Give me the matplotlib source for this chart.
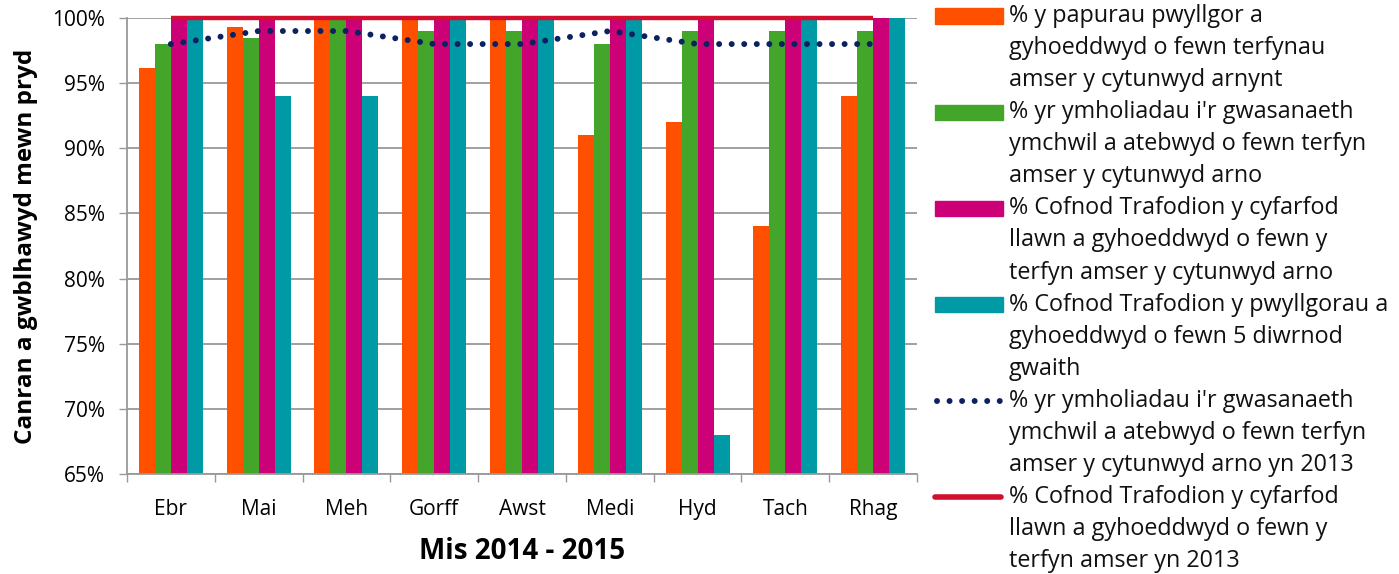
import matplotlib
matplotlib.use("Agg")
import matplotlib.pyplot as plt
import numpy as np
from matplotlib.lines import Line2D
from matplotlib.patches import Rectangle

plt.rcParams["font.family"] = ["Open Sans", "DejaVu Sans"]

months = ["Ebr", "Mai", "Meh", "Gorff", "Awst", "Medi", "Hyd", "Tach", "Rhag"]
papurau = [96.2, 99.3, 100, 100, 100, 91, 92, 84, 94]
ymholiadau = [98, 98.5, 100, 99, 99, 98, 99, 99, 99]
cofnod_llawn = [100, 100, 100, 100, 100, 100, 100, 100, 100]
cofnod_pwyllgor = [100, 94, 94, 100, 100, 100, 68, 100, 100]
ymholiadau_2013 = [98, 99, 99, 98, 98, 99, 98, 98, 98]
cofnod_2013 = [100, 100, 100, 100, 100, 100, 100, 100, 100]

labels = [
    "% y papurau pwyllgor a\ngyhoeddwyd o fewn terfynau\namser y cytunwyd arnynt",
    "% yr ymholiadau i'r gwasanaeth\nymchwil a atebwyd o fewn terfyn\namser y cytunwyd arno",
    "% Cofnod Trafodion y cyfarfod\nllawn a gyhoeddwyd o fewn y\nterfyn amser y cytunwyd arno",
    "% Cofnod Trafodion y pwyllgorau a\ngyhoeddwyd o fewn 5 diwrnod\ngwaith",
    "% yr ymholiadau i'r gwasanaeth\nymchwil a atebwyd o fewn terfyn\namser y cytunwyd arno yn 2013",
    "% Cofnod Trafodion y cyfarfod\nllawn a gyhoeddwyd o fewn y\nterfyn amser yn 2013",
]
bar_colors = ["#ff5000", "#43a52a", "#cc0077", "#009aa6"]
dot_color = "#0b2160"
red_color = "#d0102e"

W, H = 1399, 574
fig = plt.figure(figsize=(W / 100, H / 100), dpi=100)
ax = fig.add_axes([127 / W, 1 - 474 / H, (917 - 127) / W, (474 - 18) / H])

x = np.arange(len(months))
bw = 0.182
series = [papurau, ymholiadau, cofnod_llawn, cofnod_pwyllgor]
for i, (vals, col) in enumerate(zip(series, bar_colors)):
    ax.bar(x + (i - 1.5) * bw, vals, width=bw, color=col, zorder=2)

ax.plot(x, ymholiadau_2013, color=dot_color, linewidth=4.3,
        linestyle=(0, (0.001, 2.1)), dash_capstyle="round", zorder=3)
ax.plot(x, cofnod_2013, color=red_color, linewidth=3.2,
        solid_capstyle="butt", zorder=4, clip_on=False)

ax.set_xlim(-0.5, len(months) - 0.5)
ax.set_ylim(65, 100)
ax.set_yticks(np.arange(65, 101, 5))
ax.set_yticklabels([f"{v}%" for v in range(65, 101, 5)])
ax.set_xticks(x)
ax.set_xticklabels(months)
ax.set_xticks(np.arange(-0.5, len(months), 1), minor=True)
ax.tick_params(axis="x", which="major", length=0, pad=18, labelsize=15)
ax.tick_params(axis="x", which="minor", length=6, color="#999999", width=1)
ax.tick_params(axis="y", length=6, color="#999999", width=1, pad=10, labelsize=15)
ax.yaxis.grid(True, color="#999999", linewidth=1.3, zorder=0)
ax.set_axisbelow(True)
for s in ["top", "right"]:
    ax.spines[s].set_visible(False)
for s in ["left", "bottom"]:
    ax.spines[s].set_color("#999999")
    ax.spines[s].set_linewidth(1.3)

ax.set_xlabel("Mis 2014 - 2015", fontsize=20, fontweight="bold", labelpad=12)
ax.set_ylabel("Canran a gwblhawyd mewn pryd", fontsize=17.5, fontweight="bold",
              labelpad=10)


def fx(px):
    return px / W


def fy(py):
    return 1 - py / H


# legend drawn by hand to keep the Excel-style layout
pitch = 96.2
for k, lab in enumerate(labels):
    yc = 16 + k * pitch
    if k < 4:
        fig.add_artist(Rectangle((fx(935), fy(yc + 7.5)), fx(1003) - fx(935),
                                 15 / H, color=bar_colors[k],
                                 transform=fig.transFigure))
    elif k == 4:
        fig.add_artist(Line2D([fx(937), fx(1000)], [fy(yc), fy(yc)],
                              color=dot_color, linewidth=4.3,
                              linestyle=(0, (0.001, 2.1)),
                              dash_capstyle="round",
                              transform=fig.transFigure))
    else:
        fig.add_artist(Line2D([fx(935), fx(1001)], [fy(yc), fy(yc)],
                              color=red_color, linewidth=4,
                              solid_capstyle="round",
                              transform=fig.transFigure))
    fig.text(fx(1009), fy(yc - 12), lab, fontsize=16.8, va="top", ha="left",
             linespacing=1.45, color="#111111")

fig.savefig("out.png", dpi=100)
